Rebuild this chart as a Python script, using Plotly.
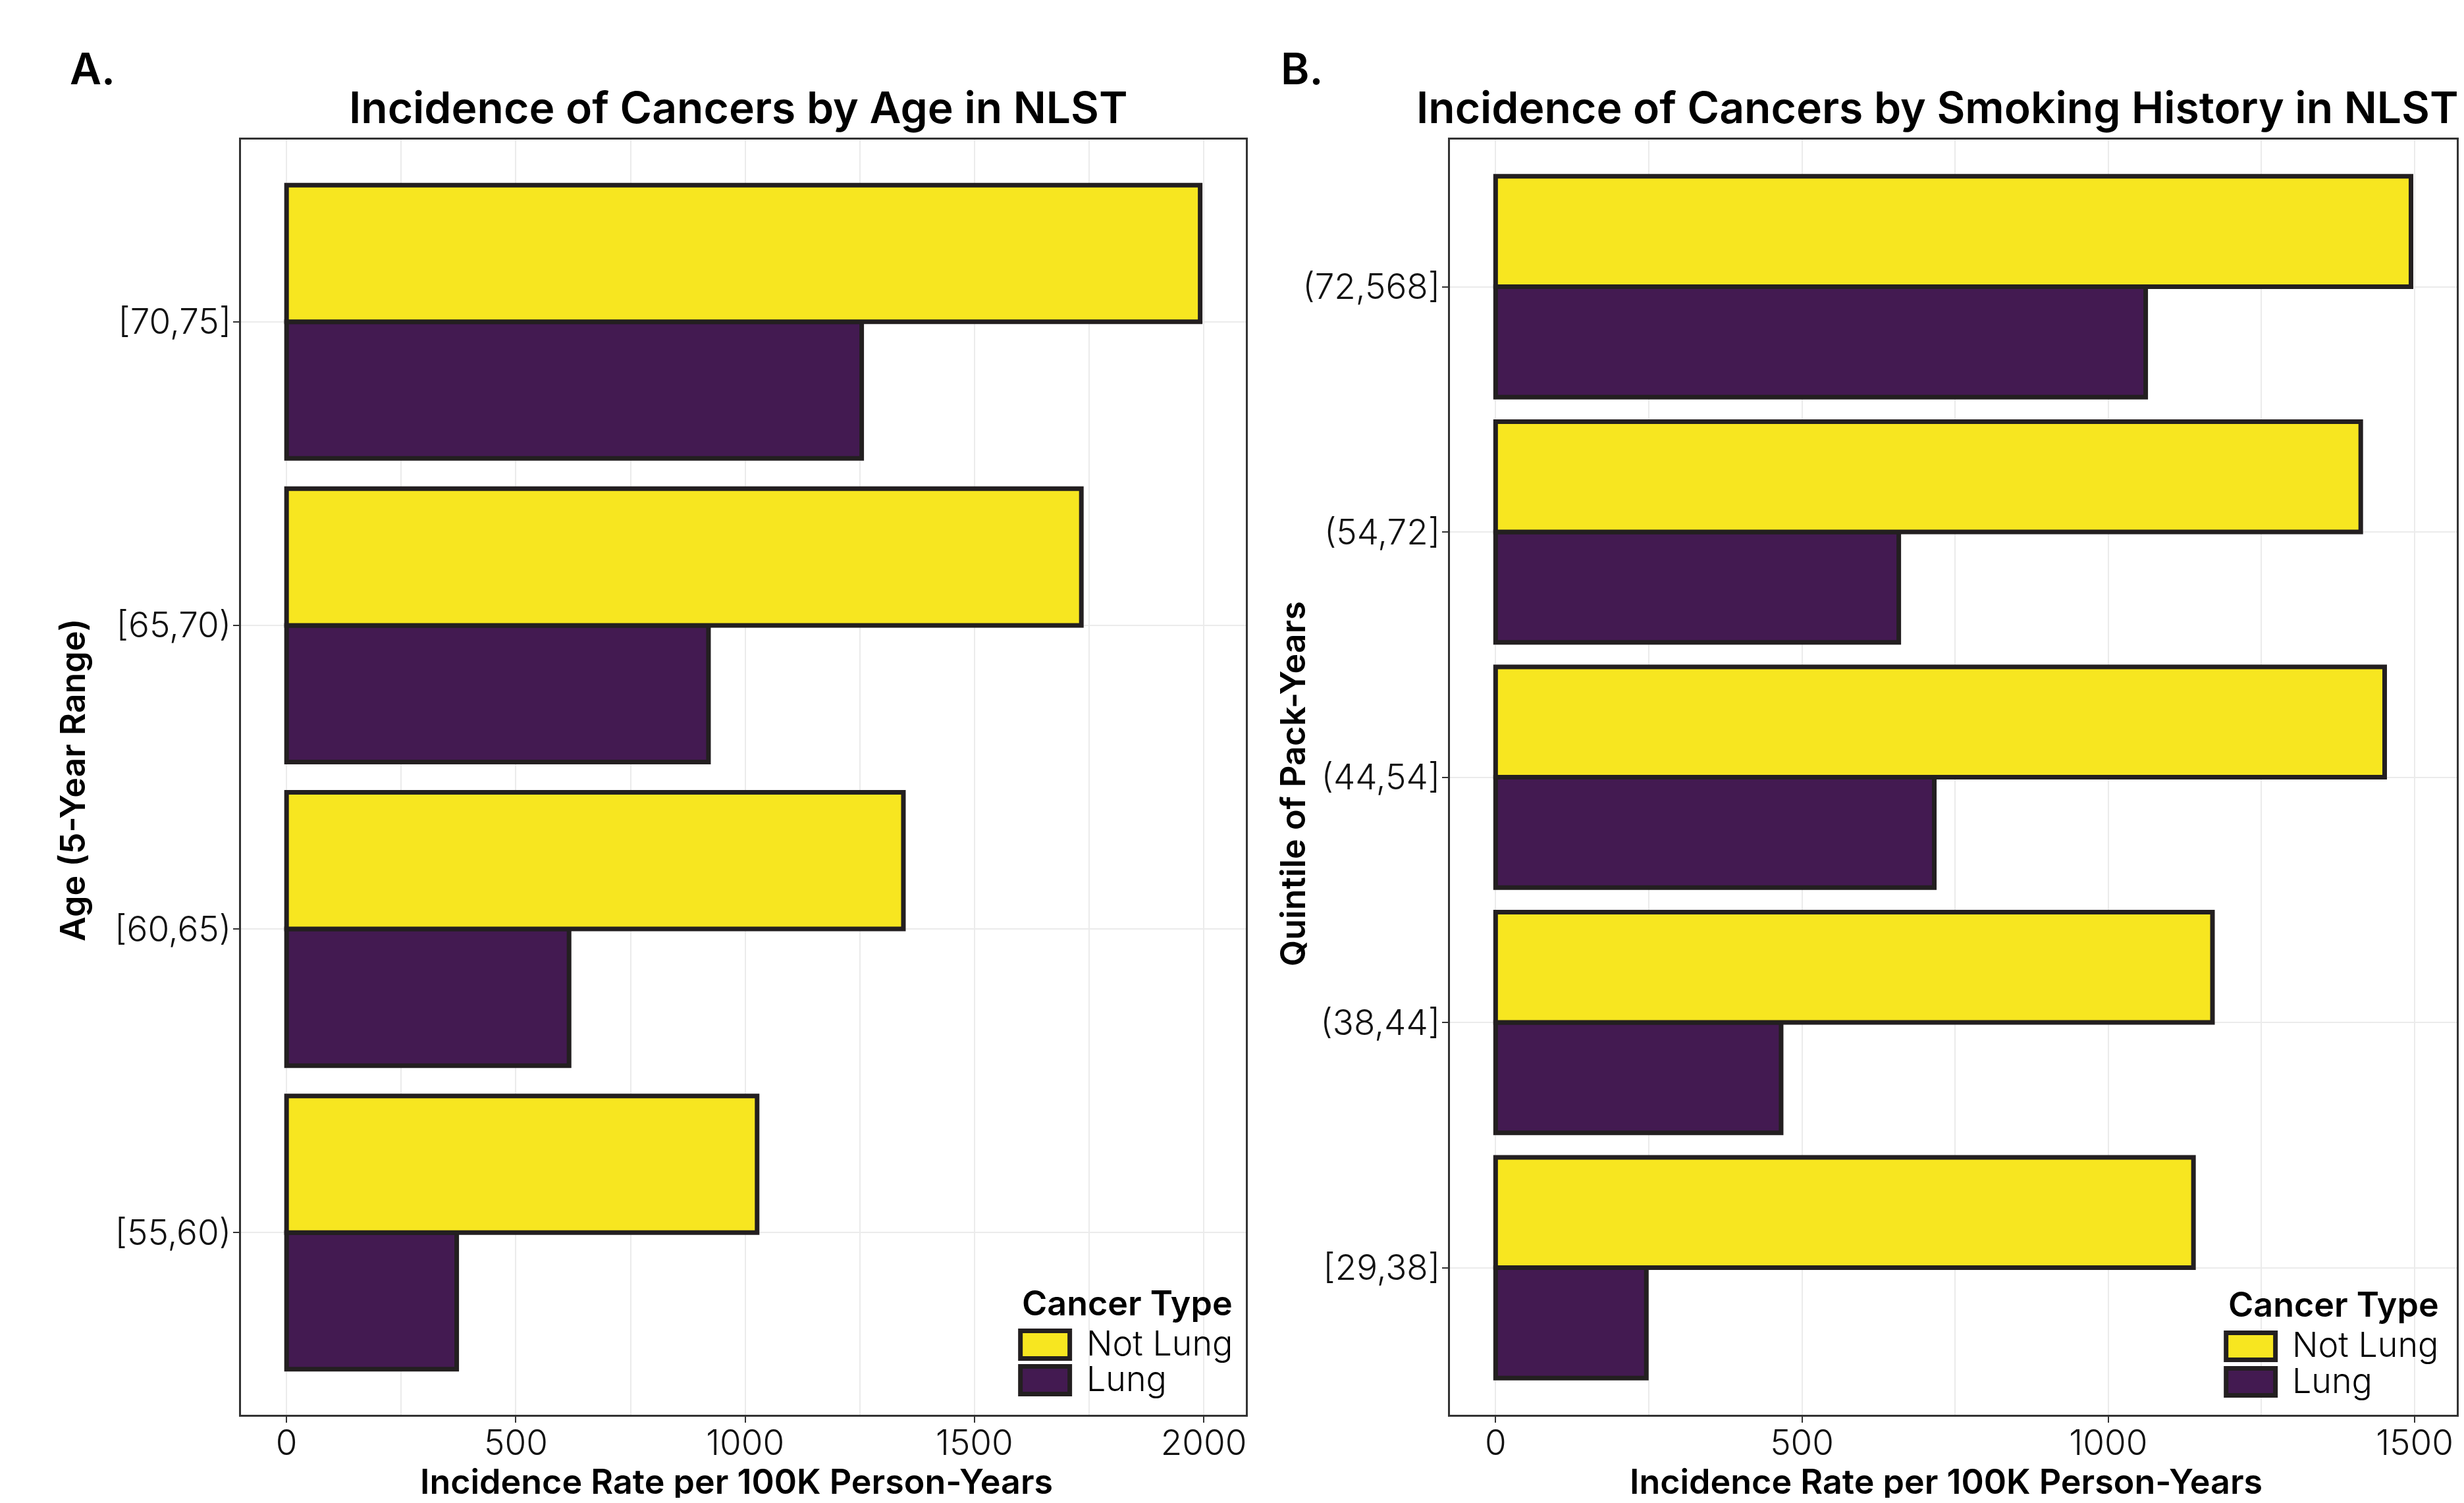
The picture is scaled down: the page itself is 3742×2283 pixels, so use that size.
import plotly.graph_objects as go

W, H = 3742, 2283
OFF = 8                      # browser body margin
FW, FH = W - 2 * OFF, H - 2 * OFF

# ---------------- data ----------------
age_groups = ["[55,60)", "[60,65)", "[65,70)", "[70,75]"]
age_not_lung = [1026, 1345, 1733, 1992]
age_lung = [371, 616, 920, 1254]

pack_groups = ["[29,38]", "(38,44]", "(44,54]", "(54,72]", "(72,568]"]
pack_not_lung = [1139, 1170, 1451, 1412, 1494]
pack_lung = [246, 466, 716, 658, 1061]

x_ticks_a = [0, 500, 1000, 1500, 2000]
x_ticks_b = [0, 500, 1000, 1500]

series_names = ["Not Lung", "Lung"]

# ---------------- style ----------------
YELLOW = "#F7E620"
PURPLE = "#431A51"
OUTLINE = "#231F20"
BORDER = "#333333"
GRID = "#EBEBEB"
FONT = "Inter"
TXT = "#111111"


def px(x):
    return (x - OFF) / FW


def py(y):
    return 1 - (y - OFF) / FH


fig = go.Figure()

panels = [
    ("x", "y", age_groups, age_not_lung, age_lung),
    ("x2", "y2", pack_groups, pack_not_lung, pack_lung),
]
for xa, ya, cats, nl, lu in panels:
    fig.add_trace(go.Bar(
        y=cats, x=lu, orientation="h", name=series_names[1],
        marker=dict(color=PURPLE, line=dict(color=OUTLINE, width=7)),
        xaxis=xa, yaxis=ya, showlegend=False))
    fig.add_trace(go.Bar(
        y=cats, x=nl, orientation="h", name=series_names[0],
        marker=dict(color=YELLOW, line=dict(color=OUTLINE, width=7)),
        xaxis=xa, yaxis=ya, showlegend=False))

tickfont = dict(family=FONT, size=53, color=TXT, weight=300)


def xaxis_cfg(domain, vmax, ticks):
    return dict(
        domain=domain, range=[-0.05 * vmax, 1.05 * vmax],
        tickvals=ticks, ticktext=[str(t) for t in ticks],
        showgrid=True, gridcolor=GRID, gridwidth=2,
        minor=dict(dtick=250, showgrid=True, gridcolor=GRID, gridwidth=2, ticks=""),
        showline=True, linecolor=BORDER, linewidth=3, mirror=True,
        ticks="outside", ticklen=9, tickwidth=2, tickcolor=BORDER,
        tickfont=tickfont, zeroline=False, fixedrange=True,
        ticklabelstandoff=-15,
    )


def yaxis_cfg(domain, cats):
    return dict(
        domain=domain, type="category", categoryorder="array", categoryarray=cats,
        range=[-0.6, len(cats) - 1 + 0.6],
        showgrid=True, gridcolor=GRID, gridwidth=2,
        showline=True, linecolor=BORDER, linewidth=3, mirror=True,
        ticks="outside", ticklen=9, tickwidth=2, tickcolor=BORDER,
        tickfont=tickfont, zeroline=False, fixedrange=True,
        ticklabelstandoff=-8,
    )


vmax_a = max(age_not_lung + age_lung)
vmax_b = max(pack_not_lung + pack_lung)
ydom = [py(2149), py(212)]

fig.update_layout(
    width=FW, height=FH,
    margin=dict(l=0, r=0, t=0, b=0),
    paper_bgcolor="white", plot_bgcolor="white",
    barmode="group", bargap=0.1, bargroupgap=0,
    showlegend=False,
    xaxis=xaxis_cfg([px(366), px(1893)], vmax_a, x_ticks_a),
    yaxis=yaxis_cfg(ydom, age_groups),
    xaxis2=xaxis_cfg([px(2203), px(3733)], vmax_b, x_ticks_b),
    yaxis2=yaxis_cfg(ydom, pack_groups),
)
fig.layout.yaxis2.anchor = "x2"
fig.layout.xaxis2.anchor = "y2"

ann = []


def text(x, y, s, size, weight, xanchor="center", angle=0):
    ann.append(dict(
        x=px(x), y=py(y), xref="paper", yref="paper", text=s, showarrow=False,
        xanchor=xanchor, yanchor="middle", textangle=angle, borderpad=0,
        font=dict(family=FONT, size=size, color="#000000", weight=weight)))


# panel letters and titles
text(105, 104, "A.", 66, 600, xanchor="left")
text(1945, 104, "B.", 66, 600, xanchor="left")
text(1122, 163, "Incidence of Cancers by Age in NLST", 66, 600)
text(2944, 163, "Incidence of Cancers by Smoking History in NLST", 66, 600)
# axis titles
text(1119, 2250, "Incidence Rate per 100K Person-Years", 52, 600)
text(2957, 2250, "Incidence Rate per 100K Person-Years", 52, 600)
text(110, 1185, "Age (5-Year Range)", 52, 600, angle=-90)
text(1964, 1190, "Quintile of Pack-Years", 52, 600, angle=-90)

# legends
shapes = []
for (tx, kx0, kx1, ty, k1, k2, lx) in [
    (1552, 1547, 1629, 1979, (2018, 2067), (2072, 2121), 1650),
    (3385, 3379, 3461, 1981, (2021, 2069), (2075, 2123), 3482),
]:
    text(tx, ty, "Cancer Type", 52, 600, xanchor="left")
    for (ky0, ky1), col, name in [(k1, YELLOW, series_names[0]), (k2, PURPLE, series_names[1])]:
        shapes.append(dict(
            type="rect", xref="paper", yref="paper",
            x0=px(kx0 + 3.5), x1=px(kx1 - 3.5), y0=py(ky1 - 3.5), y1=py(ky0 + 3.5),
            fillcolor=col, line=dict(color=OUTLINE, width=7)))
        text(lx, (ky0 + ky1) / 2 - 2, name, 52, 300, xanchor="left")

fig.update_layout(annotations=ann, shapes=shapes)

fig.write_html("out.html")
